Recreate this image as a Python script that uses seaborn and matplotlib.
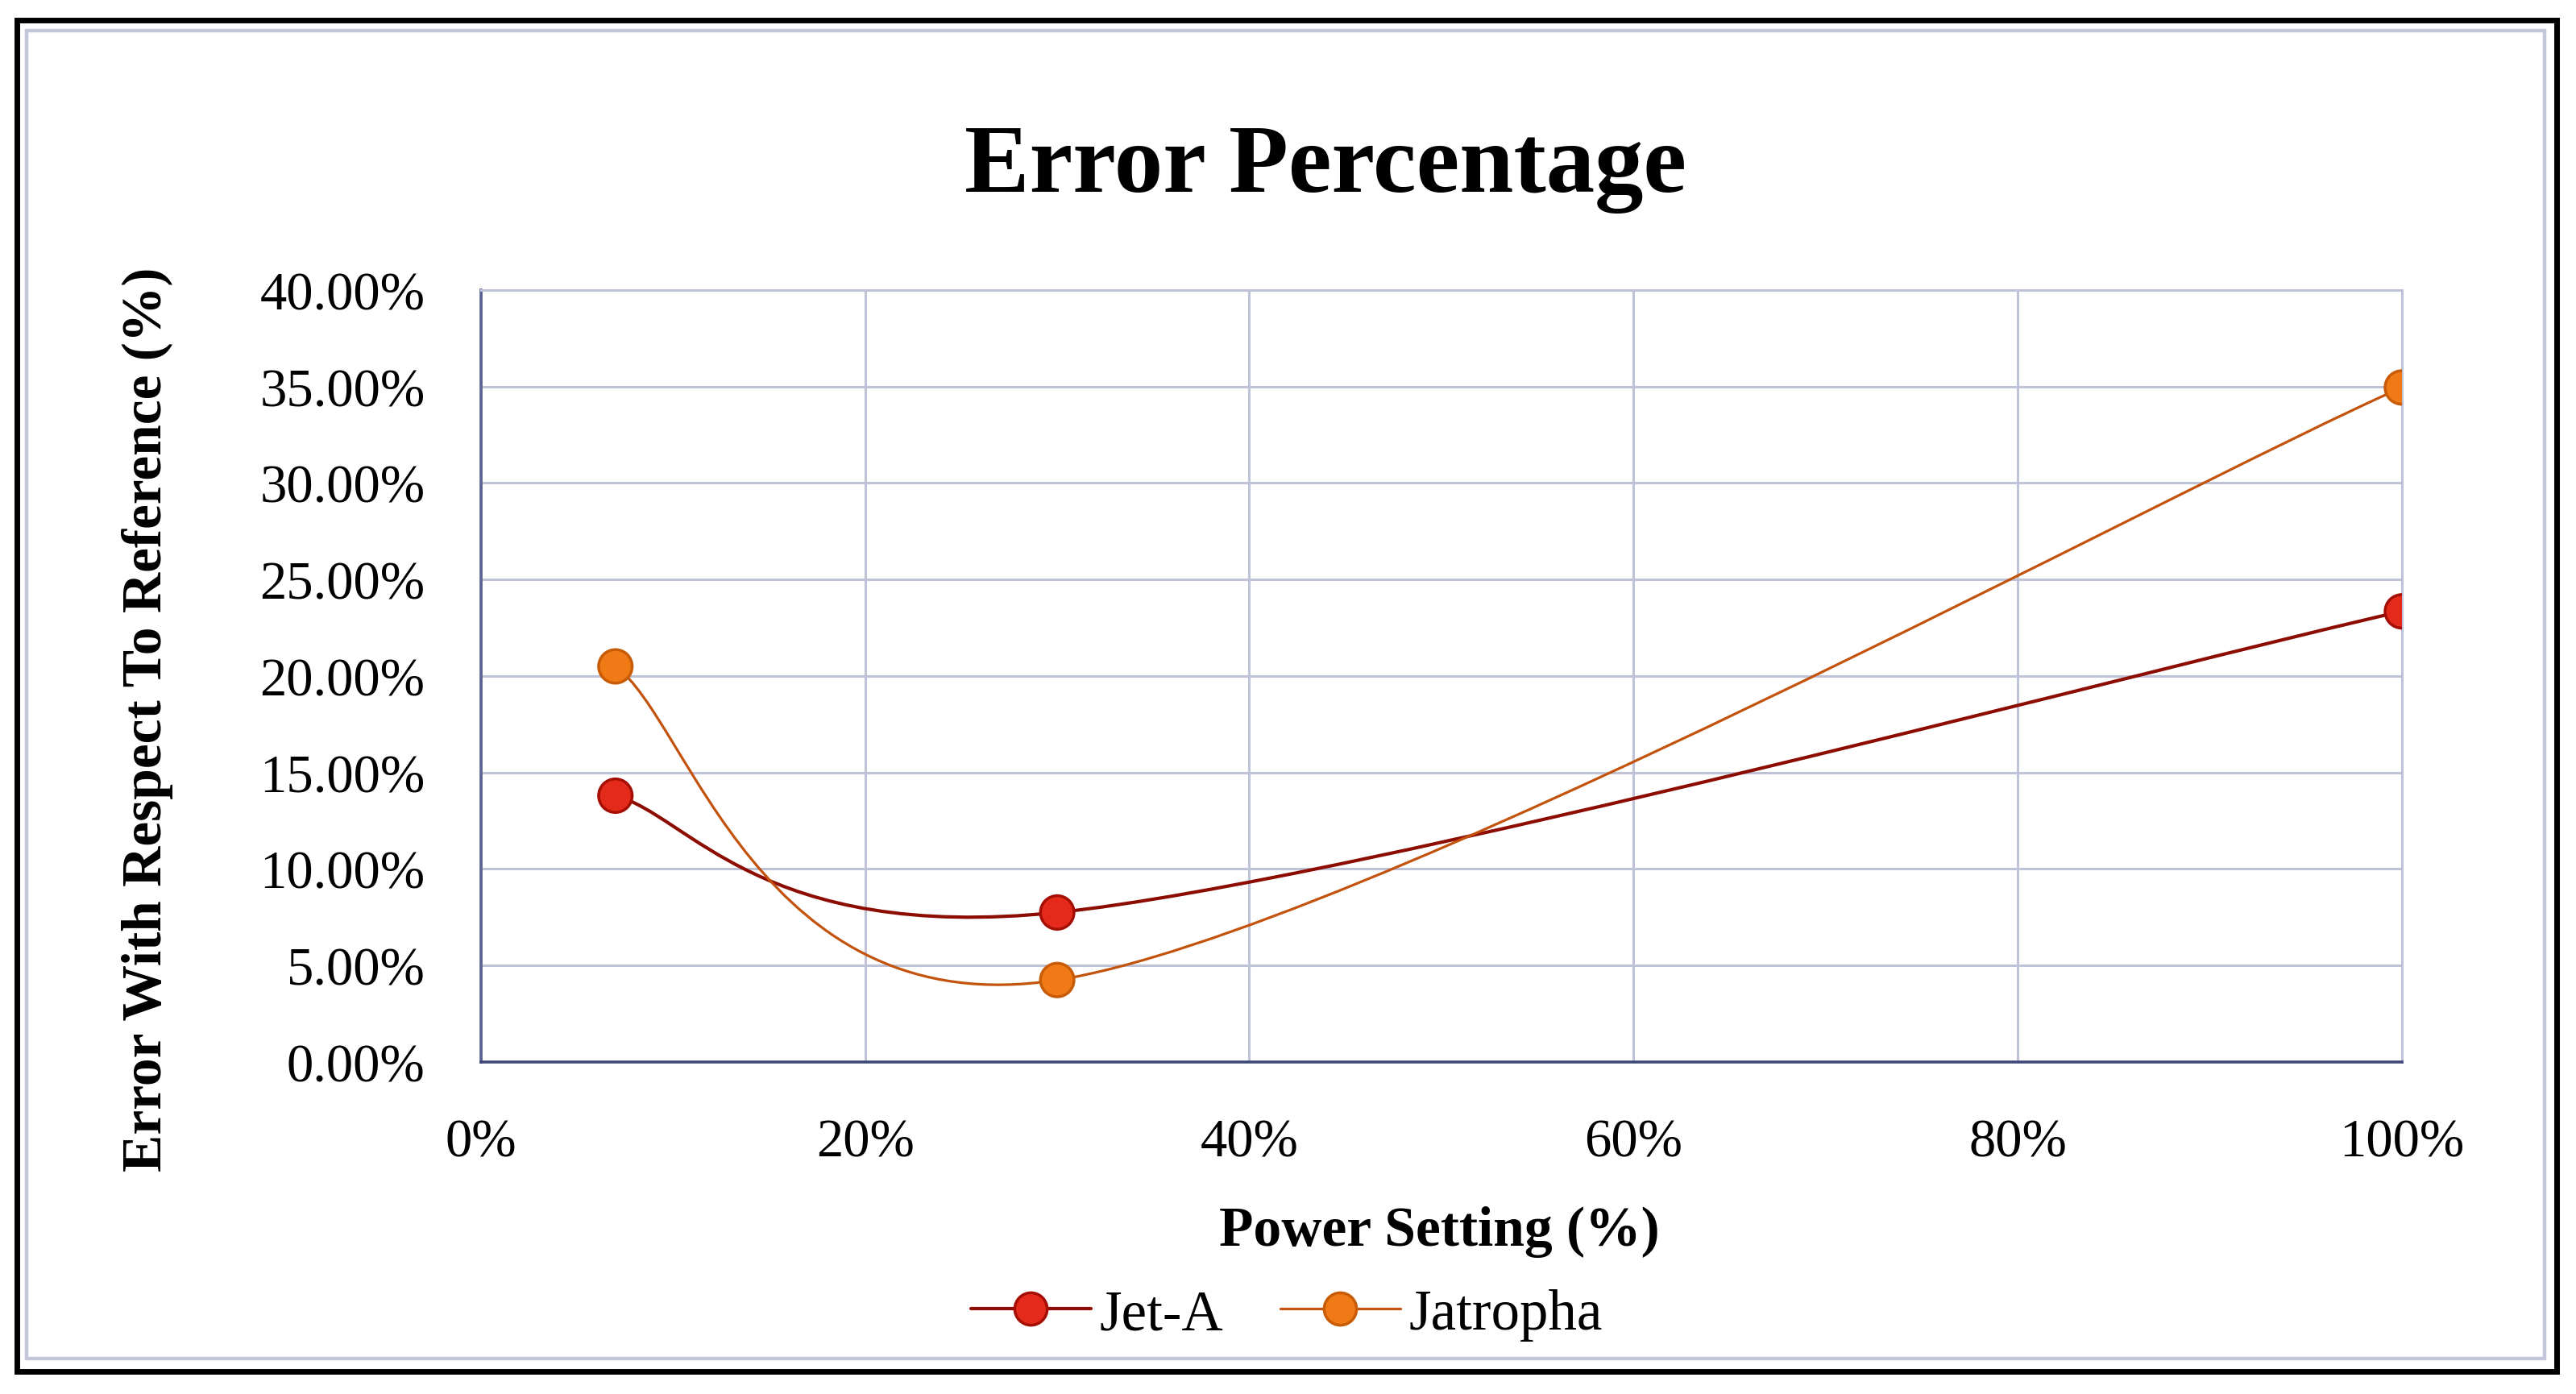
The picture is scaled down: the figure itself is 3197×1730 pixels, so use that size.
import matplotlib
matplotlib.use("Agg")
import matplotlib.pyplot as plt
import seaborn as sns
import pandas as pd
from matplotlib.path import Path
from matplotlib.patches import PathPatch, Rectangle
from matplotlib.lines import Line2D
from matplotlib.ticker import FuncFormatter, MultipleLocator

# data
power = [7, 30, 100]                 # Power Setting (%)
jet_a = [13.8, 7.75, 23.35]          # error (%)
jatropha = [20.5, 4.25, 34.95]       # error (%)
series_names = ["Jet-A", "Jatropha"]

line_colors = {"Jet-A": "#8C0C02", "Jatropha": "#C2520C"}
face_colors = {"Jet-A": "#E42A1A", "Jatropha": "#F07A16"}
edge_colors = {"Jet-A": "#A50E02", "Jatropha": "#C85C06"}
line_widths = {"Jet-A": 3.0, "Jatropha": 2.3}

sns.set_theme(style="white")
plt.rcParams["font.family"] = ["Liberation Serif", "DejaVu Serif"]
plt.rcParams["text.color"] = "black"

fig = plt.figure(figsize=(31.97, 17.31), dpi=100)
ax = fig.add_axes([0.1867, 0.238, 0.7457, 0.5535])

df = pd.DataFrame({
    "power": power * 2,
    "error": jet_a + jatropha,
    "fuel": ["Jet-A"] * 3 + ["Jatropha"] * 3,
})


# Excel-like smoothed line: Catmull-Rom style cubic Bezier through the points
def smooth_path(xs, ys):
    pts = list(zip(xs, ys))
    verts = [pts[0]]
    codes = [Path.MOVETO]
    n = len(pts)
    for i in range(n - 1):
        p0 = pts[max(i - 1, 0)]
        p1 = pts[i]
        p2 = pts[i + 1]
        p3 = pts[min(i + 2, n - 1)]
        c1 = (p1[0] + (p2[0] - p0[0]) / 6, p1[1] + (p2[1] - p0[1]) / 6)
        c2 = (p2[0] - (p3[0] - p1[0]) / 6, p2[1] - (p3[1] - p1[1]) / 6)
        verts += [c1, c2, p2]
        codes += [Path.CURVE4] * 3
    return Path(verts, codes)


for name, vals in zip(series_names, [jet_a, jatropha]):
    patch = PathPatch(smooth_path(power, vals), facecolor="none",
                      edgecolor=line_colors[name], lw=line_widths[name], zorder=3)
    ax.add_patch(patch)

sns.scatterplot(data=df, x="power", y="error", hue="fuel", palette=face_colors,
                s=900, linewidth=2.5, legend=False, ax=ax, zorder=4,
                edgecolor=[edge_colors[f] for f in df["fuel"]])

ax.set_xlim(0, 100)
ax.set_ylim(0, 40)
ax.xaxis.set_major_locator(MultipleLocator(20))
ax.yaxis.set_major_locator(MultipleLocator(5))
ax.xaxis.set_major_formatter(FuncFormatter(lambda v, p: f"{v:.0f}%"))
ax.yaxis.set_major_formatter(FuncFormatter(lambda v, p: f"{v:.2f}%"))
ax.tick_params(axis="both", labelsize=48, length=0, colors="black")
ax.tick_params(axis="y", pad=50)
ax.tick_params(axis="x", pad=50)
ax.set_xlabel("")
ax.set_ylabel("")

grid_c = "#BEC3D8"
ax.grid(True, color=grid_c, lw=2.2)
ax.set_axisbelow(True)
for side in ["top", "right"]:
    ax.spines[side].set_color(grid_c)
    ax.spines[side].set_linewidth(2.2)
ax.spines["left"].set_color("#5A6090")
ax.spines["left"].set_linewidth(2.6)
ax.spines["bottom"].set_color("#3E4878")
ax.spines["bottom"].set_linewidth(2.6)

fig.text(0.5145, 0.8787, "Error Percentage", ha="center", va="center",
         fontsize=87, fontweight="bold", color="black")
fig.text(0.5587, 0.1167, "Power Setting (%)", ha="center", va="center",
         fontsize=50, fontweight="bold", color="black")
fig.text(0.0572, 0.484, "Error With Respect To Reference (%)", ha="center",
         va="center", rotation=90, fontsize=50, fontweight="bold", color="black")

handles = [Line2D([], [], color=line_colors[n], lw=line_widths[n], marker="o",
                  markersize=29, markerfacecolor=face_colors[n],
                  markeredgecolor=edge_colors[n], markeredgewidth=2.5)
           for n in series_names]
fig.legend(handles, series_names, loc="center", bbox_to_anchor=(0.4995, 0.0568),
           ncol=2, frameon=False, fontsize=51, handlelength=2.1,
           handletextpad=0.15, columnspacing=1.0)

# chart frame
fig.patches.append(Rectangle((33 / 3197, 1 - 1687 / 1731), (3158 - 33) / 3197,
                             (1687 - 39) / 1731, transform=fig.transFigure,
                             fill=False, ec="#C4C7DC", lw=3.2))
fig.patches.append(Rectangle((21 / 3197, 1 - 1703 / 1731), (3173 - 21) / 3197,
                             (1703 - 26) / 1731, transform=fig.transFigure,
                             fill=False, ec="black", lw=5))

fig.savefig("out.png", dpi=100, facecolor="white")
